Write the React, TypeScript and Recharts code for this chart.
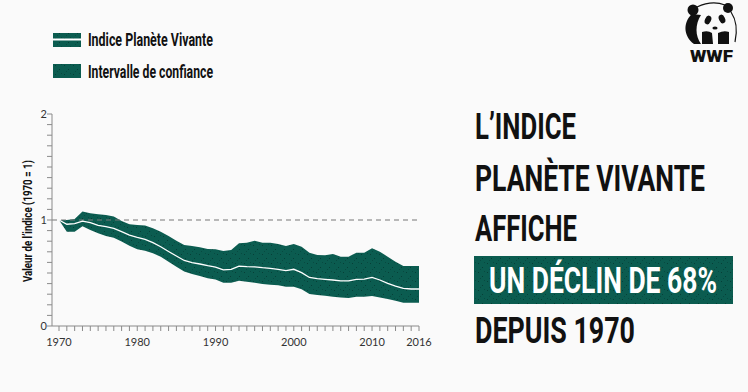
import { ComposedChart, Area, Line, XAxis, YAxis, ReferenceLine } from 'recharts'

const years = [
  1970, 1971, 1972, 1973, 1974, 1975, 1976, 1977, 1978, 1979,
  1980, 1981, 1982, 1983, 1984, 1985, 1986, 1987, 1988, 1989,
  1990, 1991, 1992, 1993, 1994, 1995, 1996, 1997, 1998, 1999,
  2000, 2001, 2002, 2003, 2004, 2005, 2006, 2007, 2008, 2009,
  2010, 2011, 2012, 2013, 2014, 2015, 2016,
]

// Indice Planète Vivante (1970 = 1)
const lpi = [
  1.0, 0.96, 0.965, 0.99, 0.975, 0.95, 0.937, 0.92, 0.89, 0.858,
  0.837, 0.818, 0.786, 0.748, 0.703, 0.66, 0.618, 0.597, 0.585, 0.569,
  0.556, 0.53, 0.535, 0.565, 0.56, 0.558, 0.55, 0.544, 0.535, 0.522,
  0.535, 0.503, 0.458, 0.447, 0.44, 0.434, 0.425, 0.425, 0.44, 0.443,
  0.459, 0.434, 0.403, 0.377, 0.355, 0.349, 0.349,
]

const ciUpper = [
  1.0, 1.0, 1.01, 1.08, 1.063, 1.054, 1.048, 1.033, 0.99, 0.96,
  0.953, 0.947, 0.922, 0.89, 0.849, 0.805, 0.764, 0.755, 0.742, 0.726,
  0.724, 0.708, 0.717, 0.78, 0.786, 0.805, 0.786, 0.786, 0.774, 0.755,
  0.774, 0.748, 0.692, 0.67, 0.667, 0.68, 0.654, 0.654, 0.692, 0.692,
  0.733, 0.701, 0.654, 0.607, 0.566, 0.566, 0.566,
]

const ciLower = [
  1.0, 0.89, 0.89, 0.94, 0.906, 0.875, 0.849, 0.833, 0.796, 0.758,
  0.723, 0.711, 0.686, 0.654, 0.607, 0.56, 0.513, 0.49, 0.472, 0.45,
  0.438, 0.409, 0.409, 0.428, 0.418, 0.409, 0.396, 0.39, 0.384, 0.371,
  0.371, 0.346, 0.302, 0.292, 0.286, 0.277, 0.268, 0.264, 0.277, 0.277,
  0.283, 0.27, 0.255, 0.239, 0.22, 0.22, 0.22,
]

const xLabels = [1970, 1980, 1990, 2000, 2010, 2016]
const yTicks = [0, 0.1, 0.2, 0.3, 0.4, 0.5, 0.6, 0.7, 0.8, 0.9, 1, 1.1, 1.2, 1.3, 1.4, 1.5, 1.6, 1.7, 1.8, 1.9, 2]
const yLabels = [0, 1, 2]
const legendItems = ['Indice Planète Vivante', 'Intervalle de confiance']
const yTitle = 'Valeur de l’indice (1970 = 1)'
const headline = ['L’INDICE', 'PLANÈTE VIVANTE', 'AFFICHE', 'UN DÉCLIN DE 68%', 'DEPUIS 1970']

const data = years.map((year, i) => ({ year, lpi: lpi[i], ci: [ciLower[i], ciUpper[i]] }))

const GREEN = '#0b5c50'
const BG = '#fafafa'
const tickFont = "Lato, 'Open Sans', sans-serif"
const headFont = "'Liberation Sans Narrow', Roboto, 'Noto Sans', sans-serif"
const SQ = 0.8 // horizontal squeeze for the condensed look

function XTick({ x, y, payload }: any) {
  const yr = payload.value
  return (
    <g>
      <line x1={x} x2={x} y1={y} y2={y + 5} stroke="#8a8a8a" strokeWidth={1} />
      {xLabels.includes(yr) && (
        <text x={x} y={y + 20} textAnchor="middle" fontSize={11} fontFamily={tickFont} fill="#333">
          {yr}
        </text>
      )}
    </g>
  )
}

function YTick({ x, y, payload }: any) {
  const v = payload.value
  return (
    <g>
      <line x1={x - 5} x2={x} y1={y} y2={y} stroke="#8a8a8a" strokeWidth={1} />
      {yLabels.includes(v) && (
        <text x={x - 5} y={y + 4} textAnchor="end" fontSize={11} fontFamily={tickFont} fill="#333">
          {v}
        </text>
      )}
    </g>
  )
}

function Stipple({ id }: { id: string }) {
  return (
    <pattern id={id} width={9} height={9} patternUnits="userSpaceOnUse">
      <rect width={9} height={9} fill={GREEN} />
      <rect x={1} y={2} width={1} height={1} fill="#063f37" />
      <rect x={5} y={6} width={1} height={1} fill="#063f37" />
      <rect x={7} y={1} width={1} height={1} fill="#084a41" />
      <rect x={3} y={8} width={1} height={1} fill="#084a41" />
    </pattern>
  )
}

// squeezed text: x and width given in page pixels
function SqText({ x, y, w, size, fill = '#111', children }: any) {
  return (
    <g transform={`scale(${SQ} 1)`}>
      <text
        x={x / SQ}
        y={y}
        fontSize={size}
        fontWeight={700}
        fontFamily={headFont}
        fill={fill}
        textLength={w / SQ}
        lengthAdjust="spacingAndGlyphs"
      >
        {children}
      </text>
    </g>
  )
}

function Panda() {
  return (
    <g>
      <circle cx={693} cy={10} r={5.5} fill="#111" />
      <circle cx={728} cy={8} r={5} fill="#111" />
      <path d="M697 7 Q712 0 725 5" stroke="#111" strokeWidth={1.2} fill="none" />
      <path d="M692 14 C683 22 683 36 694 44 L701 44 C695 36 695 24 701 15 Z" fill="#111" />
      <ellipse cx={708} cy={20} rx={3} ry={4.5} transform="rotate(25 708 20)" fill="#111" />
      <ellipse cx={722} cy={19} rx={3} ry={4.5} transform="rotate(-25 722 19)" fill="#111" />
      <ellipse cx={715} cy={28} rx={2.6} ry={1.6} fill="#111" />
      <path d="M702 32 Q708 30 712 33 L713 44 L702 44 Z" fill="#111" />
      <path d="M718 33 Q724 30 729 32 L729 44 L718 44 Z" fill="#111" />
      <path d="M731 12 Q739 24 735 42" stroke="#111" strokeWidth={1.2} fill="none" />
      <text x={690} y={62} fontSize={16} fontWeight={900} fontFamily="Roboto, sans-serif" fill="#111" textLength={43} lengthAdjust="spacingAndGlyphs">
        WWF
      </text>
    </g>
  )
}

export default function App() {
  const lines = [
    { t: headline[0], y: 139, w: 101 },
    { t: headline[1], y: 191.5, w: 230 },
    { t: headline[2], y: 241.5, w: 102 },
    { t: headline[4], y: 343, w: 160 },
  ]
  return (
    <div style={{ position: 'absolute', left: 0, top: 0, width: 748, height: 392, background: BG }}>
      <ComposedChart width={748} height={392} data={data} margin={{ top: 114, right: 329, bottom: 0, left: 0 }}>
        <defs>
          <Stipple id="stipple" />
        </defs>
        <XAxis
          dataKey="year"
          type="number"
          domain={[1970, 2016]}
          ticks={years}
          interval={0}
          padding={{ left: 7, right: 0 }}
          height={66}
          tickLine={false}
          tickSize={0}
          tickMargin={0}
          axisLine={{ stroke: '#8a8a8a' }}
          tick={XTick}
        />
        <YAxis
          type="number"
          domain={[0, 2]}
          ticks={yTicks}
          interval={0}
          width={52}
          tickLine={false}
          tickSize={0}
          tickMargin={0}
          axisLine={{ stroke: '#8a8a8a' }}
          tick={YTick}
        />
        <ReferenceLine y={1} stroke="#777" strokeDasharray="5 4" strokeWidth={1} />
        <Area dataKey="ci" type="linear" stroke="none" fill="url(#stipple)" fillOpacity={1} isAnimationActive={false} />
        <Line dataKey="lpi" type="linear" stroke="#ffffff" strokeWidth={1.3} dot={false} activeDot={false} isAnimationActive={false} />
      </ComposedChart>

      <svg width={748} height={392} style={{ position: 'absolute', left: 0, top: 0, pointerEvents: 'none' }}>
        <defs>
          <Stipple id="stipple2" />
        </defs>
        {/* legend */}
        <rect x={53} y={33} width={28} height={14} fill="url(#stipple2)" />
        <rect x={53} y={38.5} width={28} height={2} fill="#fff" />
        <rect x={53} y={64} width={28} height={14} fill="url(#stipple2)" />
        <SqText x={88} y={46.5} w={125} size={17.5}>{legendItems[0]}</SqText>
        <SqText x={88} y={78} w={125} size={17.5}>{legendItems[1]}</SqText>

        {/* y title */}
        <text
          x={32}
          y={221}
          transform="rotate(-90 32 221)"
          textAnchor="middle"
          fontSize={13.5}
          fontWeight={700}
          fontFamily={headFont}
          fill="#111"
          textLength={122}
          lengthAdjust="spacingAndGlyphs"
        >
          {yTitle}
        </text>

        {/* headline */}
        {lines.map((l) => (
          <SqText key={l.t} x={475} y={l.y} w={l.w} size={37}>{l.t}</SqText>
        ))}
        <rect x={474} y={256} width={259} height={48} fill="url(#stipple2)" />
        <SqText x={489} y={293} w={228} size={37} fill="#fff">{headline[3]}</SqText>

        <Panda />
      </svg>
    </div>
  )
}
